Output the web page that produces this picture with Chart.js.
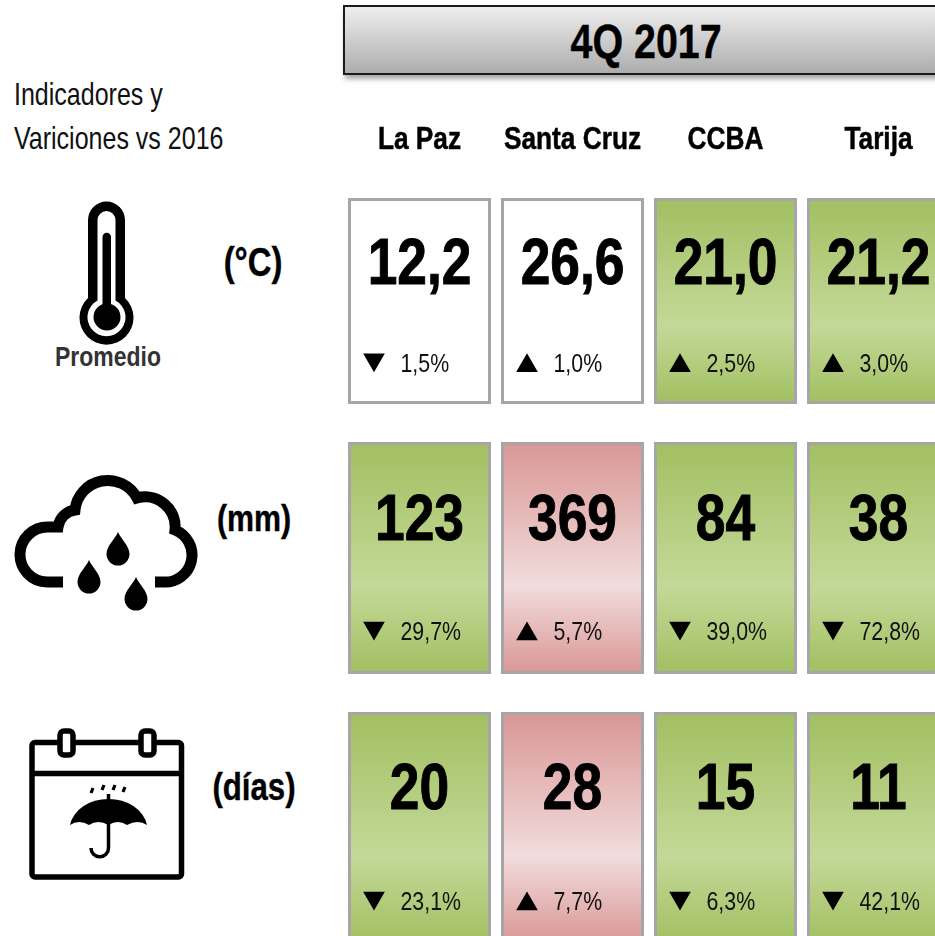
<!DOCTYPE html>
<html>
<head>
<meta charset="utf-8">
<title>4Q 2017</title>
<script src="https://cdn.jsdelivr.net/npm/chart.js@4/dist/chart.umd.min.js"></script>
<style>
    html, body { margin: 0; padding: 0; background: #fff; overflow: hidden; }
    #page { position: relative; width: 935px; height: 936px; overflow: hidden; font-family: "Liberation Sans", sans-serif; color: #000; }
    #page canvas { position: absolute; left: 343px; }
    #page svg { position: absolute; left: 0; top: 0; }
    .txt { position: absolute; white-space: nowrap; line-height: 1; }
    .unit { font-weight: bold; font-size: 38px; transform: translate(-50%, -50%) scaleX(.82); -webkit-text-stroke: .4px #000; }
    .intro { left: 14px; font-size: 30.5px; transform: translateY(-50%) scaleX(.82); transform-origin: left center; color: #111; }
    #banner {
        position: absolute; left: 343px; top: 5px; width: 606px; height: 70px; box-sizing: border-box;
        border: 2.5px solid #1a1a1a; background: linear-gradient(#eeeeee, #adadad);
        box-shadow: 2px 4px 5px rgba(0,0,0,.35);
        font-weight: bold; font-size: 48px; text-align: center; line-height: 70px;
    }
    #banner span { display: inline-block; transform: scaleX(.82); -webkit-text-stroke: .4px #000; }
</style>
</head>
<body>
<div id="page">
    <div id="banner"><span>4Q 2017</span></div>
    <div class="txt intro" style="top:94px">Indicadores y</div>
    <div class="txt intro" style="top:138px">Variciones vs 2016</div>
    <div class="txt unit" style="left:253px;top:262px;font-size:40px">(°C)</div>
    <div class="txt unit" style="left:254px;top:518px;font-size:37px">(mm)</div>
    <div class="txt unit" style="left:254px;top:787px">(días)</div>
    <div class="txt" style="left:108px;top:357px;transform:translate(-50%,-50%) scaleX(.82);font-weight:bold;font-size:28px;color:#333">Promedio</div>

    <svg width="935" height="936" viewBox="0 0 935 936">
        <defs>
            <path id="drop" d="M0,-22 C-3,-15 -11.5,-8 -11.5,0 A11.5,11.5 0 0 0 11.5,0 C11.5,-8 3,-15 0,-22Z"/>
        </defs>
        <!-- thermometer -->
        <path d="M88,298 V220 A18.5,18.5 0 0 1 125,220 V298 A27,27 0 1 1 88,298Z" fill="#000"/>
        <path d="M97.5,300.5 V220 A9,9 0 0 1 115.5,220 V300.5 A19,19 0 1 1 97.5,300.5Z" fill="#fff"/>
        <path d="M102.5,310 V237 A4.25,4.25 0 0 1 111,237 V310Z" fill="#000"/>
        <circle cx="107" cy="317" r="13.5" fill="#000"/>
        <!-- cloud -->
        <path d="M63,582 H47 A27.5,27.5 0 0 1 48,527 H58 A20,20 0 0 1 75,510 A33,33 0 0 1 137,498 A30,30 0 0 1 175,530 A27,27 0 0 1 163,582 H155" fill="none" stroke="#000" stroke-width="11"/>
        <use href="#drop" x="118" y="554"/>
        <use href="#drop" x="89" y="582"/>
        <use href="#drop" x="136" y="599"/>
        <!-- calendar -->
        <rect x="32" y="742.5" width="149.5" height="134.5" rx="3" fill="none" stroke="#000" stroke-width="5.5"/>
        <path d="M32,773.5 H181.5" stroke="#000" stroke-width="5.5"/>
        <rect x="60" y="731" width="13" height="24" rx="4" fill="#fff" stroke="#000" stroke-width="5.5"/>
        <rect x="141" y="731" width="13" height="24" rx="4" fill="#fff" stroke="#000" stroke-width="5.5"/>
        <path d="M70,825 A39,31 0 0 1 147,825 Q138,819 127,825 Q118,819 108.5,825 Q98,819 89,825 Q79,819 70,825Z" fill="#000"/>
        <path d="M108.5,794 V848 A8.5,8.5 0 0 1 91,848" fill="none" stroke="#000" stroke-width="3.5"/>
        <path d="M93,788 L91,793 M104,785 L102,790 M115,785 L113,790 M125,787 L123,792" stroke="#000" stroke-width="3.2"/>
    </svg>

    <canvas id="rowTemp" style="top:100px" width="612" height="304"></canvas>
    <canvas id="rowRain" style="top:442px" width="612" height="232"></canvas>
    <canvas id="rowDays" style="top:712px" width="612" height="232"></canvas>
</div>

<script>
document.addEventListener('DOMContentLoaded', () => {
    // Data
    const cities = ['La Paz', 'Santa Cruz', 'CCBA', 'Tarija'];

    const tempValues = [12.2, 26.6, 21.0, 21.2];
    const tempChanges = [-1.5, 1.0, 2.5, 3.0];
    const tempStatus = ['neutral', 'neutral', 'good', 'good'];

    const rainValues = [123, 369, 84, 38];
    const rainChanges = [-29.7, 5.7, -39.0, -72.8];
    const rainStatus = ['good', 'bad', 'good', 'good'];

    const dayValues = [20, 28, 15, 11];
    const dayChanges = [-23.1, 7.7, -6.3, -42.1];
    const dayStatus = ['good', 'bad', 'good', 'good'];

    const palette = {
        good: ['#a2bf61', '#c3d998'],
        bad: ['#d99694', '#f2dcdd']
    };

    const SANS = '"Liberation Sans", sans-serif';

    const comma = (v, digits) => Math.abs(v).toFixed(digits).replace('.', ',');

    // the picture uses a condensed face, no narrow font here so squeeze it
    const narrowText = (ctx, str, x, y, heavy) => {
        ctx.save();
        ctx.translate(x, y);
        ctx.scale(0.82, 1);
        ctx.fillText(str, 0, 0);
        if (heavy) {
            ctx.lineWidth = heavy;
            ctx.strokeStyle = '#000';
            ctx.strokeText(str, 0, 0);
        }
        ctx.restore();
    };

    // Draws the big number, the arrow and the % change inside each cell
    const cellLabels = {
        id: 'cellLabels',
        afterDatasetsDraw(chart, args, opts) {
            const { ctx, scales } = chart;
            const meta = chart.getDatasetMeta(0);
            ctx.save();
            ctx.fillStyle = '#000';
            ctx.textBaseline = 'middle';
            meta.data.forEach((bar, i) => {
                ctx.textAlign = 'center';
                ctx.font = 'bold 65px ' + SANS;
                narrowText(ctx, comma(opts.values[i], opts.digits), bar.x, scales.y.getPixelForValue(opts.valueY) + 4, 1);

                if (opts.showCities) {
                    ctx.font = 'bold 32px ' + SANS;
                    narrowText(ctx, scales.x.getLabelForValue(i), scales.x.getPixelForTick(i), scales.y.top - 58, 0.5);
                }

                const changeY = scales.y.getPixelForValue(opts.changeY);
                const down = opts.changes[i] < 0;
                Chart.helpers.drawPoint(ctx, {
                    pointStyle: 'triangle',
                    radius: 12.5,
                    rotation: down ? 180 : 0,
                    borderWidth: 0
                }, bar.x - 45.5, changeY + (down ? -3 : 3));
                ctx.textAlign = 'left';
                ctx.font = '26px ' + SANS;
                ctx.fillStyle = '#111';
                narrowText(ctx, comma(opts.changes[i], 1) + '%', bar.x - 19, changeY + 2);
                ctx.fillStyle = '#000';
            });
            ctx.restore();
        }
    };

    const cellFill = (status) => (c) => {
        const area = c.chart.chartArea;
        if (!area) return '#fff';
        const colors = palette[status[c.dataIndex]];
        if (!colors) return '#fff';
        const g = c.chart.ctx.createLinearGradient(0, area.top, 0, area.bottom);
        g.addColorStop(0, colors[0]);
        g.addColorStop(0.62, colors[1]);
        g.addColorStop(1, colors[0]);
        return g;
    };

    const makeRow = (id, values, changes, status, digits, valueY, changeY, showCities) => new Chart(document.getElementById(id), {
        type: 'bar',
        data: {
            labels: cities,
            datasets: [{
                data: cities.map(() => 1),
                backgroundColor: cellFill(status),
                borderColor: '#a6a6a6',
                borderWidth: 3,
                borderSkipped: false,
                inflateAmount: 0,
                barPercentage: 1,
                categoryPercentage: 143 / 153
            }]
        },
        options: {
            responsive: false,
            animation: false,
            layout: { padding: 0 },
            plugins: {
                legend: { display: false },
                title: { display: false },
                tooltip: { enabled: false },
                cellLabels: { values, changes, digits, valueY, changeY, showCities }
            },
            scales: {
                x: {
                    position: 'top',
                    display: showCities,
                    grid: { display: false, drawTicks: false },
                    border: { display: false },
                    ticks: { display: false, autoSkip: false },
                    afterFit: (axis) => {
                        axis.height = showCities ? 98 : 0;
                        axis.paddingLeft = 0;
                        axis.paddingRight = 0;
                    }
                },
                y: { display: false, reverse: true, min: 0, max: 1 }
            }
        },
        plugins: [cellLabels]
    });

    makeRow('rowTemp', tempValues, tempChanges, tempStatus, 1, 0.31, 0.80, true);
    makeRow('rowRain', rainValues, rainChanges, rainStatus, 0, 0.328, 0.815, false);
    makeRow('rowDays', dayValues, dayChanges, dayStatus, 0, 0.323, 0.815, false);
});
</script>
</body>
</html>
